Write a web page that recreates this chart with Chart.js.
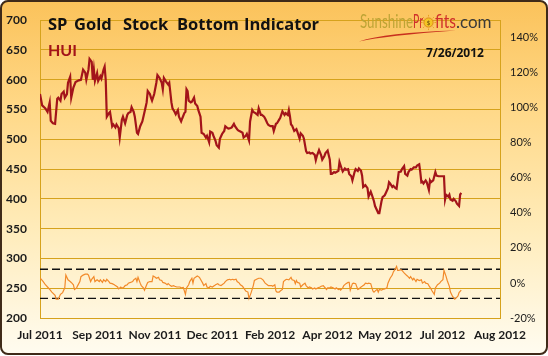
<!DOCTYPE html>
<html><head><meta charset="utf-8">
<script src="https://cdn.jsdelivr.net/npm/chart.js@4/dist/chart.umd.min.js"></script>
<style>html,body{margin:0;padding:0;background:#fff}#wrap{width:548px;height:356px}</style>
</head><body><div id="wrap"><canvas id="c" width="548" height="356"></canvas></div>
<script>
// ---- data ----
const xLabels = ["Jul 2011","Sep 2011","Nov 2011","Dec 2011","Feb 2012","Apr 2012","May 2012","Jul 2012","Aug 2012"];
const axisDays = 427; // days spanned by the date axis
const huiDays = [
0,2,5,7,9,10,12,14,16,17, 19,20,22,23,25,26,28,29,31,33, 36,38,40,42,43,45,46,48,49,50,
51,53,54,56,57,59,60,61,62,64, 65,67,68,70,71,73,74,76,77,79, 81,82,84,85,87,88,90,91,93,95,
96,98,99,100,102,103,104,106,108,109, 111,113,114,115,117,119,120,122,123,125, 126,128,129,131,132,134,135,136,137,138,
140,141,143,144,146,147,149,150,152,154, 155,157,158,160,161,163,164,166,167,169, 171,172,174,175,177,178,180,181,183,184,
186,188,189,191,192,194,195,197,198,200, 202,203,205,206,208,209,211,212,214,216, 217,219,220,222,223,225,227,228,230,231,
232,233,234,236,238,239,241,242,244,245, 247,248,250,251,253,255,256,257,258,259, 261,262,264,265,267,269,270,271,273,274,
276,277,278,280,281,283,284,286,287,289, 290,292,293,295,296,298,299,300,302,304, 305,307,308,310,311,313,314,315,317,318,
320,321,323,324,325,327,328,330,331,333, 335,336,338,339,341,342,344,345,347,349, 350,352,353,354,355,356,358,359,361,362,
363,365,367,368,370,372,374,375,376,377, 379,380,381,383,384,386,387,389,390,391];
const huiValues = [
576,557,552,546,562,531,527,526,568,570, 565,576,580,570,576,595,605,570,587,596, 599,600,617,612,600,617,635,630,600,617,
598,611,598,606,602,617,622,600,538,544, 546,522,525,520,525,519,503,533,538,527, 541,544,546,554,546,538,511,509,522,530,
538,554,562,581,576,570,565,576,595,608, 603,595,584,603,597,592,595,562,552,546, 542,549,538,530,535,544,546,584,581,565,
562,563,570,560,556,549,538,511,509,503, 506,495,513,511,506,497,490,486,501,509, 514,522,519,518,519,520,526,522,517,515,
513,511,503,506,509,498,530,549,546,544, 541,552,541,541,538,535,527,524,522,522, 514,526,527,533,536,547,541,544,541,549,
539,525,523,514,517,512,501,510,506,501, 480,477,478,476,477,474,465,472,477,482, 473,466,472,477,481,466,442,442,445,444,
446,447,462,451,446,451,449,450,442,438, 431,445,450,447,451,447,439,420,423,418, 404,412,407,396,388,380,376,376,396,403,
406,410,418,428,426,420,422,418,417,445, 446,450,455,442,439,445,450,449,453,453, 456,458,445,428,429,426,431,428,415,431,
428,431,445,439,438,438,438,438,399,407, 404,407,399,397,400,396,392,388,407,410];
const indDays = [
0,3,5,7,9,11,14,15,17,19, 21,23,24,26,28,29,31,32,34,35, 37,38,40,42,44,45,47,48,50,51,
53,55,56,58,59,61,62,64,65,67, 69,70,72,73,75,76,78,79,81,82, 84,86,87,89,90,91,93,94,96,97,
99,100,102,104,105,107,108,110,111,113, 114,116,118,119,121,122,124,125,127,128, 130,131,133,135,136,138,139,141,142,143,
145,146,148,149,151,152,154,155,157,158, 160,162,163,165,166,168,169,171,172,174, 176,177,179,180,182,183,185,186,188,189,
191,193,194,196,198,199,201,203,205,207, 209,211,212,215,216,218,219,220,222,223, 225,226,228,229,231,233,234,236,237,238,
239,241,242,244,246,247,249,250,252,253, 255,256,258,260,261,263,264,266,267,269, 270,272,274,275,277,278,279,281,282,284,
286,287,288,290,291,293,295,296,298,299, 301,302,304,305,307,309,310,312,313,314, 315,317,318,320,322,323,325,327,328,330,
331,332,333,335,336,338,340,341,343,344, 346,347,349,350,352,354,355,357,358,360, 361,363,364,366,367,369,371,372,374,375,
377,378,380,381,383,385,386,388,389,391];
const indValues = [
2.9,0.8,-1.0,-2.3,-3.7,-5.2,-7.0,-9.2,-9.2,-6.5, -5.5,-2.8,4.5,1.8,0.8,0.3,-1.0,-3.7,-2.8,-1.5, 0.8,3.6,4.5,5.0,5.0,4.5,0.8,2.1,3.6,0.8,
1.8,0.8,1.8,0.3,1.8,0.8,2.1,0.8,-0.1,-0.4, -1.0,-1.5,-2.3,-3.4,-2.3,-3.0,-2.3,-1.5,-1.0,-0.1, 0.3,0.8,1.8,2.7,0.8,3.2,-0.1,-1.5,-2.8,-4.1,
-1.0,0.3,0.8,0.8,4.0,3.2,2.7,3.2,1.8,1.4, 0.3,-0.1,-1.0,-0.4,-1.5,-1.9,-1.5,-1.9,-2.3,-2.3, -2.3,-2.8,-2.5,-6.5,-2.8,-1.0,0.8,2.7,-0.1,2.7,
3.6,4.0,3.2,2.1,-0.1,-1.5,-0.4,-2.3,-2.8,-1.9, -2.3,-1.5,-1.0,-0.4,-1.0,-1.5,-1.0,-0.1,0.8,1.8, 2.1,1.8,2.1,1.8,2.1,0.8,-0.1,-1.0,-1.9,-2.8,
-4.6,-5.2,-8.8,-5.5,-1.5,1.4,2.1,2.7,2.7,1.8, -0.1,-1.0,-1.5,-1.5,-1.9,-1.0,-4.6,-5.2,-5.2,-4.6, -3.7,0.8,1.8,2.1,1.8,3.2,1.8,1.4,-0.4,1.4,
0.3,-0.1,-2.3,-1.0,-0.1,-1.5,-2.8,-2.3,-2.8,-3.4, -2.8,-3.4,-2.8,-2.3,-1.9,-1.5,-2.3,-3.7,-2.8,-2.8, -2.3,-2.8,-3.4,-2.8,-3.7,-3.4,-4.1,-2.8,-1.5,-0.4,
0.3,0.3,-4.1,-0.4,-0.1,-0.4,-3.7,-3.4,-2.3,-1.9, -1.0,-0.1,-0.4,-0.1,-0.4,-4.6,-5.2,-4.1,-3.7,-5.2, -3.7,-4.1,-3.7,-3.4,-2.8,-0.1,2.7,4.5,6.3,8.2,
9.4,7.2,7.2,7.6,7.2,5.8,4.5,4.0,2.7,3.6, 1.8,2.7,0.8,2.1,1.4,1.8,-0.1,0.8,-0.1,-0.4, -1.5,-3.4,-4.6,-6.5,-2.8,-1.0,-0.1,0.8,1.8,7.2,
3.6,1.4,-1.9,-5.2,-7.7,-9.2,-8.8,-7.4,-5.5,-4.1];
const upperBand = 7.8, lowerBand = -8.8;
const leftMin = 200, leftMax = 700, leftStep = 50;
const rightMin = -20, rightMax = 150, rightStep = 20, rightTop = 140;
const titleWords = ["SP","Gold","Stock","Bottom","Indicator"];
const seriesLabel = "HUI";
const dateText = "7/26/2012";

// ---- styling ----
const GOLD = '#D6A21C';
const TXT = '#1b1b1b';

const deco = {
  id: 'deco',
  beforeDraw(chart){
    const {ctx, width, height} = chart;
    ctx.save();
    ctx.fillStyle = '#ffffff';
    ctx.fillRect(0,0,width,height);
    const g = ctx.createLinearGradient(0,0,0,height);
    g.addColorStop(0,'#FBC25A');
    g.addColorStop(0.3,'#FFD887');
    g.addColorStop(0.65,'#FFECBB');
    g.addColorStop(1,'#FFFCF1');
    ctx.beginPath();
    ctx.roundRect(1,1,width-2,height-3,7);
    ctx.fillStyle = g;
    ctx.fill();
    ctx.restore();
  },
  afterDraw(chart){
    const {ctx, width, height} = chart;
    ctx.save();
    // title
    ctx.fillStyle = '#111';
    ctx.font = 'bold 16.5px "Open Sans"';
    ctx.textBaseline = 'alphabetic';
    const wx = [48,74,123,177,244];
    titleWords.forEach((w,i)=>ctx.fillText(w, wx[i], 30));
    // HUI
    ctx.fillStyle = '#A3141A';
    ctx.font = 'bold 16px Lato';
    ctx.fillText(seriesLabel, 48, 56);
    // date
    ctx.fillStyle = '#111';
    ctx.font = 'bold 12px "Open Sans"';
    ctx.fillText(dateText, 426, 57);
    // logo
    ctx.font = '19px "Liberation Sans Narrow", Lato';
    ctx.fillStyle = '#BDA435';
    ctx.fillText('Sunshine', 360, 28, 53);
    ctx.fillStyle = '#D0302B';
    ctx.fillText('Pr', 413, 28, 10);
    // sun "o"
    ctx.beginPath(); ctx.arc(428.5, 22.5, 4.6, 0, Math.PI*2);
    ctx.fillStyle = '#F4C524'; ctx.fill();
    ctx.strokeStyle = '#E08A1A'; ctx.lineWidth = 1; ctx.stroke();
    for (let k=0;k<8;k++){const a=k*Math.PI/4; ctx.beginPath(); ctx.moveTo(428.5+6*Math.cos(a),22.5+6*Math.sin(a)); ctx.lineTo(428.5+7.6*Math.cos(a),22.5+7.6*Math.sin(a)); ctx.strokeStyle='#E8A020'; ctx.stroke();}
    ctx.fillStyle = '#7A5A10'; ctx.font = 'bold 6px Lato'; ctx.fillText('$', 426.8, 25);
    ctx.font = '19px "Liberation Sans Narrow", Lato';
    ctx.fillStyle = '#D0302B';
    ctx.fillText('fits', 435, 28, 21);
    ctx.font = '17px Lato';
    ctx.fillStyle = '#3a3a3a';
    ctx.fillText('.com', 456, 28, 38);
    // swoosh
    ctx.beginPath();
    ctx.moveTo(359,41.5);
    ctx.quadraticCurveTo(385,32.5,456,30.5);
    ctx.quadraticCurveTo(386,35.5,359,41.5);
    ctx.fillStyle = '#C8301E';
    ctx.fill();
    // outer border
    ctx.beginPath();
    ctx.roundRect(1,1,width-2,height-3,7);
    ctx.strokeStyle = '#3f2a18';
    ctx.lineWidth = 2;
    ctx.stroke();
    ctx.restore();
  }
};

const pts = (xs, ys) => xs.map((x,i)=>({x, y: ys[i]}));

new Chart(document.getElementById('c'), {
  type: 'line',
  data: {
    datasets: [
      { label: 'HUI', data: pts(huiDays, huiValues), yAxisID: 'y', borderColor: '#A3141A', borderWidth: 2.2, pointRadius: 0, tension: 0 },
      { label: 'Indicator', data: pts(indDays, indValues), yAxisID: 'y2', borderColor: '#F28A2A', borderWidth: 1.2, pointRadius: 0, tension: 0 },
      { label: 'Upper', data: [{x:0,y:upperBand},{x:axisDays,y:upperBand}], yAxisID: 'y2', borderColor: '#111', borderWidth: 1.4, borderDash: [8,4], pointRadius: 0 },
      { label: 'Lower', data: [{x:0,y:lowerBand},{x:axisDays,y:lowerBand}], yAxisID: 'y2', borderColor: '#111', borderWidth: 1.4, borderDash: [8,4], pointRadius: 0 }
    ]
  },
  options: {
    responsive: false, animation: false, devicePixelRatio: 1,
    layout: { padding: { top: 8, left: 0, right: 0, bottom: 0 } },
    plugins: { legend: { display: false }, tooltip: { enabled: false } },
    scales: {
      x: {
        type: 'linear', min: 0, max: axisDays,
        grid: { display: false, drawTicks: false },
        border: { display: true, color: GOLD, width: 1 },
        afterBuildTicks: s => { s.ticks = xLabels.map((_,i)=>({ value: i*axisDays/(xLabels.length-1) })); },
        ticks: { autoSkip: false, maxRotation: 0, padding: 10, color: TXT, font: { family: 'Lato', weight: 'bold', size: 12 },
                 callback: (v, i) => xLabels[i] },
        afterFit: s => { s.height = 38; }
      },
      y: {
        position: 'left', min: leftMin, max: leftMax,
        grid: { color: GOLD, lineWidth: 1, drawTicks: false },
        border: { display: true, color: GOLD, width: 1 },
        ticks: { stepSize: leftStep, padding: 13, color: TXT, font: { family: 'Lato', weight: 'bold', size: 12 } },
        afterFit: s => { s.width = 40; }
      },
      y2: {
        position: 'right', min: rightMin, max: rightMax,
        grid: { display: false, drawTicks: false },
        border: { display: true, color: GOLD, width: 1 },
        afterBuildTicks: s => { s.ticks = s.ticks.filter(t => t.value <= rightTop); },
        ticks: { stepSize: rightStep, padding: 10, color: TXT, font: { family: 'Lato', size: 11 }, callback: v => v + '%' },
        afterFit: s => { s.width = 48; }
      }
    }
  },
  plugins: [deco]
});
</script></body></html>
